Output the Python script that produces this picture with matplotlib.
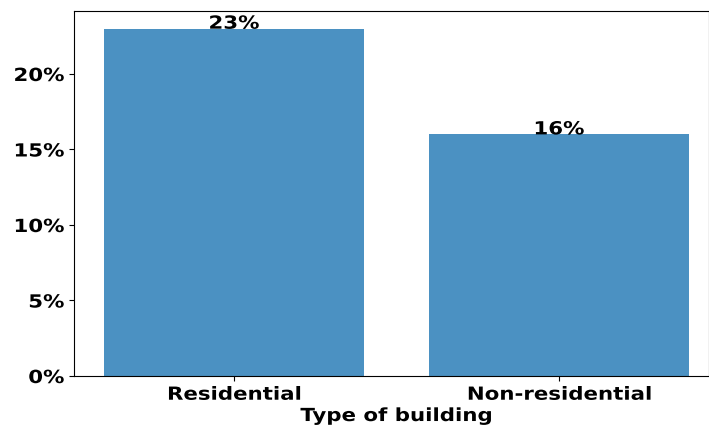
import matplotlib
matplotlib.use("Agg")
import matplotlib.pyplot as plt
from matplotlib.patheffects import AbstractPathEffect
from matplotlib.transforms import Affine2D

categories = ["Residential", "Non-residential"]
values = [23, 16]
labels = ["23%", "16%"]
yticks = [0, 5, 10, 15, 20]
ytick_labels = ["0%", "5%", "10%", "15%", "20%"]


class Stretch(AbstractPathEffect):
    """Widen glyphs horizontally about an anchor of the text."""
    def __init__(self, sx=1.2, anchor="center"):
        super().__init__()
        self.sx = sx
        self.anchor = anchor

    def draw_path(self, renderer, gc, tpath, affine, rgbFace=None):
        ext = tpath.get_extents()
        if self.anchor == "right":
            cx = ext.x1
        elif self.anchor == "left":
            cx = ext.x0
        else:
            cx = (ext.x0 + ext.x1) / 2
        t = Affine2D().translate(-cx, 0).scale(self.sx, 1).translate(cx, 0) + affine
        renderer.draw_path(gc, tpath, t, rgbFace)


SX = 1.18
FS = 13
W, H = 709, 425
fig = plt.figure(figsize=(W/100, H/100), dpi=100)
ax = fig.add_axes([74/W, 1-376/H, (709-74)/W, (376-11)/H])
x = list(range(len(categories)))
ax.bar(x, values, width=0.8, color="#4b91c2")
for xi, v, lab in zip(x, values, labels):
    ax.text(xi, v, lab, ha="center", va="baseline", fontsize=FS, fontweight="bold",
            path_effects=[Stretch(SX, "center")])
ax.set_xlim(-0.4923, 1.4615)
ax.set_ylim(0, 24.17)
ax.set_yticks(yticks, ytick_labels, fontsize=FS, fontweight="bold",
              path_effects=[Stretch(SX, "right")])
ax.set_xticks(x, categories, fontsize=FS, fontweight="bold",
              path_effects=[Stretch(SX, "center")])
ax.set_xlabel("Type of building", fontsize=FS, fontweight="bold", labelpad=2,
              path_effects=[Stretch(SX, "center")])
ax.xaxis.set_label_coords(0.507, -0.085)
fig.savefig("out.png", dpi=100)
